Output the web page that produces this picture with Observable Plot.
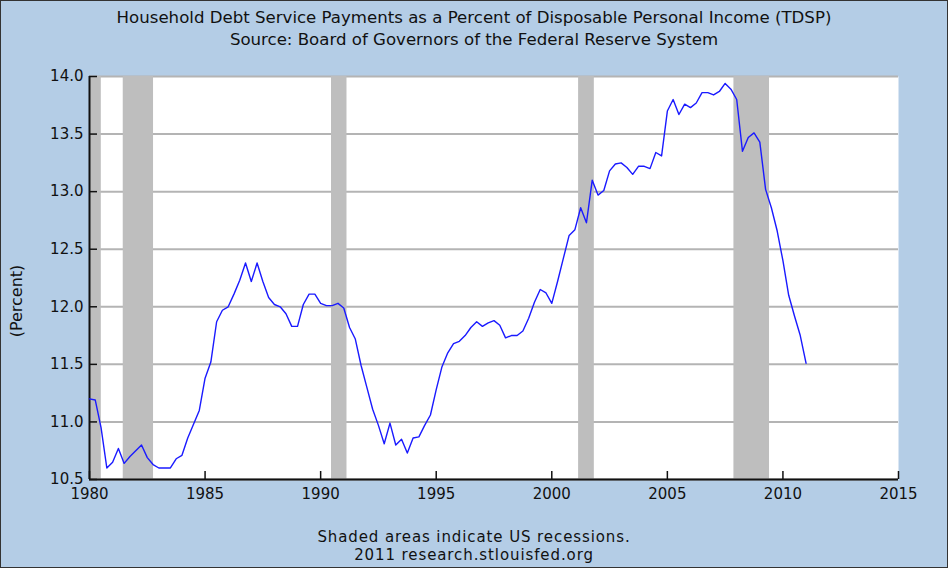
<!DOCTYPE html>
<html>
<head>
<meta charset="utf-8">
<script src="https://cdn.jsdelivr.net/npm/d3@7"></script>
<script src="https://cdn.jsdelivr.net/npm/@observablehq/plot@0.6"></script>
<style>
  html, body { margin: 0; padding: 0; }
  body { width: 948px; height: 568px; overflow: hidden; }
  #wrap { position: relative; width: 948px; height: 568px; background: #b4cde6; font-family: "DejaVu Sans", sans-serif; color: #111; }
  #border { position: absolute; left: 0; top: 0; width: 948px; height: 568px; box-sizing: border-box; border: 1px solid #333; pointer-events: none; }
  #title { height: 56px; box-sizing: border-box; padding-top: 7px; text-align: center; font-size: 16.6px; line-height: 22px; white-space: nowrap; }
  #chart { height: 464px; }
  #chart svg { display: block; }
  #caption { height: 48px; box-sizing: border-box; padding-top: 8px; text-align: center; font-size: 15px; letter-spacing: 0.9px; line-height: 18px; white-space: nowrap; }
  #ylabel { position: absolute; left: 16px; top: 301px; transform: translate(-50%, -50%) rotate(-90deg); font-size: 16px; white-space: nowrap; }
</style>
</head>
<body>
<div id="wrap">
  <div id="title">Household Debt Service Payments as a Percent of Disposable Personal Income (TDSP)<br>Source: Board of Governors of the Federal Reserve System</div>
  <div id="chart"></div>
  <div id="caption">Shaded areas indicate US recessions.<br>2011 research.stlouisfed.org</div>
  <div id="ylabel">(Percent)</div>
  <div id="border"></div>
</div>
<script>
// Quarterly series, 1980Q1 .. 2011Q1 (percent)
const firstYear = 1980;
const tdsp = [
  11.20, 11.19, 10.95, 10.60,  // 1980
  10.65, 10.77, 10.64, 10.70,  // 1981
  10.75, 10.80, 10.69, 10.63,  // 1982
  10.60, 10.60, 10.60, 10.68,  // 1983
  10.71, 10.86, 10.98, 11.10,  // 1984
  11.38, 11.52, 11.87, 11.97,  // 1985
  12.00, 12.11, 12.23, 12.38,  // 1986
  12.22, 12.38, 12.22, 12.08,  // 1987
  12.02, 12.00, 11.94, 11.83,  // 1988
  11.83, 12.02, 12.11, 12.11,  // 1989
  12.03, 12.01, 12.01, 12.03,  // 1990
  11.99, 11.82, 11.72, 11.49,  // 1991
  11.30, 11.11, 10.97, 10.81,  // 1992
  10.99, 10.80, 10.85, 10.73,  // 1993
  10.86, 10.87, 10.97, 11.06,  // 1994
  11.28, 11.48, 11.60, 11.68,  // 1995
  11.70, 11.75, 11.82, 11.87,  // 1996
  11.83, 11.86, 11.88, 11.84,  // 1997
  11.73, 11.75, 11.75, 11.79,  // 1998
  11.90, 12.04, 12.15, 12.12,  // 1999
  12.03, 12.22, 12.42, 12.62,  // 2000
  12.67, 12.86, 12.73, 13.10,  // 2001
  12.97, 13.01, 13.18, 13.24,  // 2002
  13.25, 13.21, 13.15, 13.22,  // 2003
  13.22, 13.20, 13.34, 13.31,  // 2004
  13.70, 13.80, 13.67, 13.76,  // 2005
  13.73, 13.77, 13.86, 13.86,  // 2006
  13.84, 13.87, 13.94, 13.89,  // 2007
  13.80, 13.35, 13.47, 13.51,  // 2008
  13.43, 13.02, 12.86, 12.66,  // 2009
  12.40, 12.10, 11.92, 11.75,  // 2010
  11.51                        // 2011
];

// US recessions (decimal years)
const recStart = [1980.0, 1981.46, 1990.47, 2001.16, 2007.88];
const recEnd   = [1980.51, 1982.77, 1991.14, 2001.84, 2009.42];

const xTicks = [1980, 1985, 1990, 1995, 2000, 2005, 2010, 2015];
const yTicks = [10.5, 11.0, 11.5, 12.0, 12.5, 13.0, 13.5, 14.0];

const series = tdsp.map((v, i) => ({date: firstYear + i / 4, value: v}));
const recessions = recStart.map((s, i) => ({start: s, end: recEnd[i]}));

const chart = Plot.plot({
  width: 948,
  height: 464,
  marginLeft: 89,
  marginRight: 50,
  marginTop: 20,
  marginBottom: 41,
  style: {background: "transparent", fontFamily: "DejaVu Sans, sans-serif", fontSize: "15px", color: "#111"},
  x: {domain: [1980, 2015], label: null},
  y: {domain: [10.5, 14.0], label: null},
  marks: [
    Plot.frame({fill: "white", stroke: null}),
    Plot.gridY(yTicks, {stroke: "#b4b4b4", strokeOpacity: 1, strokeWidth: 2}),
    Plot.rect(recessions, {x1: "start", x2: "end", fill: "#bebebe"}),
    Plot.ruleX([xTicks[0]], {stroke: "#111", strokeWidth: 2}),
    Plot.ruleY([yTicks[0]], {stroke: "#111", strokeWidth: 2}),
    Plot.axisY(yTicks, {anchor: "left", tickSize: 8, dx: 8, text: null, label: null, stroke: "#111", strokeWidth: 1.5}),
    Plot.axisY(yTicks, {anchor: "left", tickSize: 0, tickPadding: 6, tickFormat: d => d.toFixed(1), label: null, fill: "#111"}),
    Plot.axisX(xTicks, {anchor: "bottom", tickSize: 8, dy: -8, text: null, label: null, stroke: "#111", strokeWidth: 1.5}),
    Plot.axisX(xTicks, {anchor: "bottom", tickSize: 0, tickPadding: 9, tickFormat: d => String(d), label: null, fill: "#111"}),
    Plot.line(series, {x: "date", y: "value", stroke: "#1a1aff", strokeWidth: 1.4})
  ]
});
document.getElementById("chart").appendChild(chart);
</script>
</body>
</html>
